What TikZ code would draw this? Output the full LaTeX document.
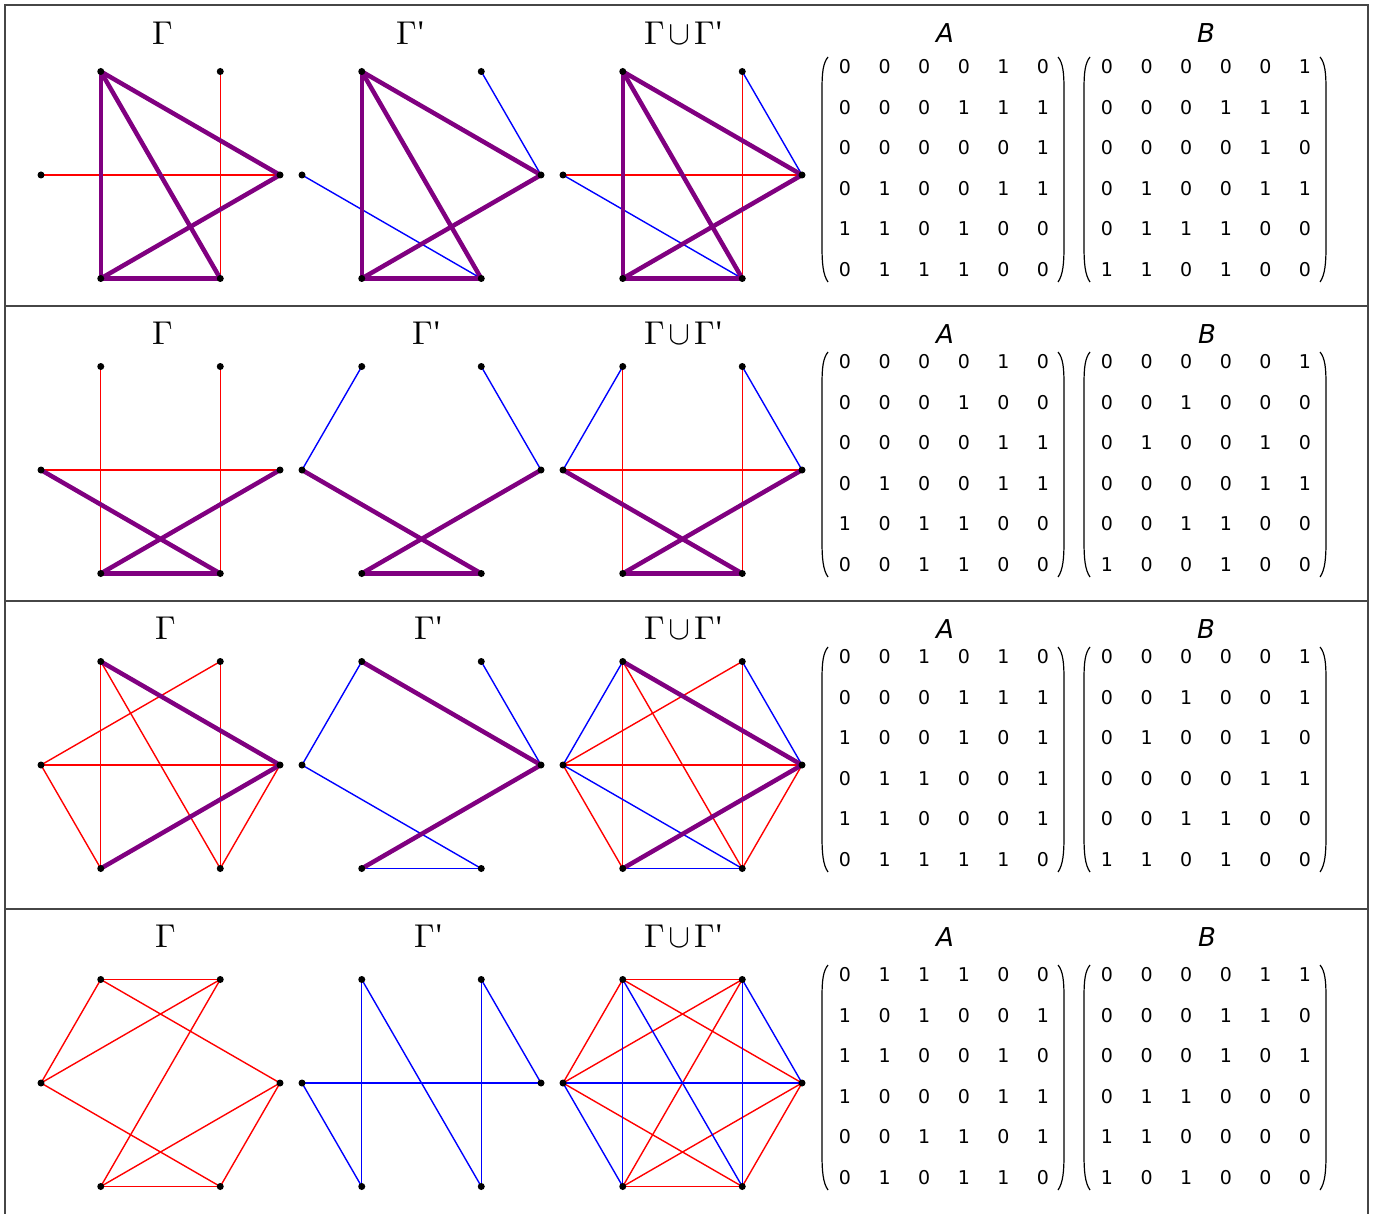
\documentclass[tikz,border=0pt]{standalone}
\usepackage{fontspec}
\usepackage{unicode-math}
\setmathfont{Latin Modern Math}
\newfontfamily\dejavu{DejaVu Sans}
\newfontfamily\libser{Liberation Serif}
\definecolor{edgered}{RGB}{255,0,0}
\definecolor{edgeblue}{RGB}{0,0,255}
\definecolor{edgepurple}{RGB}{128,0,128}
\definecolor{rulegray}{RGB}{70,70,70}
\tikzset{
  vdot/.style={circle,fill=black,inner sep=0pt,minimum size=7pt},
  aedge/.style={edgered,line width=1.4pt},
  bedge/.style={edgeblue,line width=1.4pt},
  cedge/.style={edgepurple,line width=4.5pt,line cap=round},
  gtitle/.style={inner sep=0pt,anchor=base,font=\fontsize{33}{36}\selectfont},
  mtitle/.style={inner sep=0pt,anchor=base,font=\fontsize{26}{30}\selectfont\dejavu\itshape},
  entry/.style={inner sep=0pt,font=\fontsize{19}{21}\selectfont\dejavu},
  parenline/.style={line width=1.2pt,black},
  framerule/.style={rulegray,line width=1.3pt},
}
\newcommand\mkverts[3]{%
  \foreach \i/\dx/\dy in {1/59.75/-103.5,2/-59.75/-103.5,3/-119.5/0,4/-59.75/103.5,5/59.75/103.5,6/119.5/0}
    {\coordinate (#1v\i) at ({#2+\dx},{#3+\dy});}}
\newcommand\mkdots[1]{%
  \foreach \i in {1,...,6} {\node[vdot] (#1d\i) at (#1v\i) {};}}
\newcommand\mkedges[3]{%
  \foreach \a/\b in {#3} {\draw[#2] (#1v\a) -- (#1v\b);}}
\newcommand\mkmatrix[4]{%
  \foreach \row [count=\r] in {#4} {%
    \foreach \v [count=\c] in \row {%
      \node[entry] (#1-\r-\c) at ({#2+(\c-1)*39.6},{#3+(\r-1)*40.5}) {\v};}}
  \draw[parenline] ({#2-17},{#3-10}) .. controls ({#2-22},{#3-4}) and ({#2-23},{#3+6}) .. ({#2-23},{#3+22})
     -- ({#2-23},{#3+180}) .. controls ({#2-23},{#3+196}) and ({#2-22},{#3+208}) .. ({#2-17},{#3+215});
  \draw[parenline] ({#2+198+15},{#3-10}) .. controls ({#2+198+20},{#3-4}) and ({#2+198+21},{#3+6}) .. ({#2+198+21},{#3+22})
     -- ({#2+198+21},{#3+180}) .. controls ({#2+198+21},{#3+196}) and ({#2+198+20},{#3+208}) .. ({#2+198+15},{#3+215});
}
\newcommand\gprime{\kern1pt\raisebox{1pt}{\libser\char"27}}
\begin{document}
\begin{tikzpicture}[x=1pt,y=-1pt]
\useasboundingbox (0,0) rectangle (1375,1214);
% frame
\draw[framerule] (5,1214) -- (5,5) -- (1368,5) -- (1368,1214);
\foreach \yy in {306,601,909} {\draw[framerule] (5,\yy) -- (1368,\yy);}
% ---------- row 1 ----------
\node[gtitle] (t1a) at (163,44.5) {$\Gamma$};
\node[gtitle] (t1b) at (410,44.5) {$\Gamma$\gprime};
\node[gtitle] (t1c) at (683,44.5) {$\Gamma\mkern-2mu\cup\mkern-2mu\Gamma$\gprime};
\node[mtitle] (t1A) at (945,43) {A};
\node[mtitle] (t1B) at (1206,43) {B};
\mkverts{ra}{160.5}{175}\mkverts{rb}{421.5}{175}\mkverts{rc}{682.5}{175}
\mkedges{ra}{aedge}{1/5,3/6}
\mkedges{ra}{cedge}{2/4,2/5,2/6,4/5,4/6}
\mkedges{rb}{bedge}{1/6,3/5}
\mkedges{rb}{cedge}{2/4,2/5,2/6,4/5,4/6}
\mkedges{rc}{aedge}{1/5,3/6}
\mkedges{rc}{bedge}{1/6,3/5}
\mkedges{rc}{cedge}{2/4,2/5,2/6,4/5,4/6}
\mkdots{ra}\mkdots{rb}\mkdots{rc}
\mkmatrix{mA1}{845}{67}{{0,0,0,0,1,0},{0,0,0,1,1,1},{0,0,0,0,0,1},{0,1,0,0,1,1},{1,1,0,1,0,0},{0,1,1,1,0,0}}
\mkmatrix{mB1}{1107}{67}{{0,0,0,0,0,1},{0,0,0,1,1,1},{0,0,0,0,1,0},{0,1,0,0,1,1},{0,1,1,1,0,0},{1,1,0,1,0,0}}
% ---------- row 2 ----------
\node[gtitle] (t2a) at (163,344.5) {$\Gamma$};
\node[gtitle] (t2b) at (426,344.5) {$\Gamma$\gprime};
\node[gtitle] (t2c) at (683,344.5) {$\Gamma\mkern-2mu\cup\mkern-2mu\Gamma$\gprime};
\node[mtitle] (t2A) at (945,343.5) {A};
\node[mtitle] (t2B) at (1207,343.5) {B};
\mkverts{sa}{160.5}{470}\mkverts{sb}{421.5}{470}\mkverts{sc}{682.5}{470}
\mkedges{sa}{aedge}{1/5,2/4,3/6}
\mkedges{sa}{cedge}{3/5,4/5,4/6}
\mkedges{sb}{bedge}{1/6,2/3}
\mkedges{sb}{cedge}{3/5,4/5,4/6}
\mkedges{sc}{aedge}{1/5,2/4,3/6}
\mkedges{sc}{bedge}{1/6,2/3}
\mkedges{sc}{cedge}{3/5,4/5,4/6}
\mkdots{sa}\mkdots{sb}\mkdots{sc}
\mkmatrix{mA2}{845}{362}{{0,0,0,0,1,0},{0,0,0,1,0,0},{0,0,0,0,1,1},{0,1,0,0,1,1},{1,0,1,1,0,0},{0,0,1,1,0,0}}
\mkmatrix{mB2}{1107}{362}{{0,0,0,0,0,1},{0,0,1,0,0,0},{0,1,0,0,1,0},{0,0,0,0,1,1},{0,0,1,1,0,0},{1,0,0,1,0,0}}
% ---------- row 3 ----------
\node[gtitle] (t3a) at (166,639.5) {$\Gamma$};
\node[gtitle] (t3b) at (428,639.5) {$\Gamma$\gprime};
\node[gtitle] (t3c) at (683,639.5) {$\Gamma\mkern-2mu\cup\mkern-2mu\Gamma$\gprime};
\node[mtitle] (t3A) at (945,638.5) {A};
\node[mtitle] (t3B) at (1206,638.5) {B};
\mkverts{ua}{160.5}{765}\mkverts{ub}{421.5}{765}\mkverts{uc}{682.5}{765}
\mkedges{ua}{aedge}{1/3,1/5,2/4,2/5,3/4,3/6,5/6}
\mkedges{ua}{cedge}{2/6,4/6}
\mkedges{ub}{bedge}{1/6,2/3,3/5,4/5}
\mkedges{ub}{cedge}{2/6,4/6}
\mkedges{uc}{aedge}{1/3,1/5,2/4,2/5,3/4,3/6,5/6}
\mkedges{uc}{bedge}{1/6,2/3,3/5,4/5}
\mkedges{uc}{cedge}{2/6,4/6}
\mkdots{ua}\mkdots{ub}\mkdots{uc}
\mkmatrix{mA3}{845}{657}{{0,0,1,0,1,0},{0,0,0,1,1,1},{1,0,0,1,0,1},{0,1,1,0,0,1},{1,1,0,0,0,1},{0,1,1,1,1,0}}
\mkmatrix{mB3}{1107}{657}{{0,0,0,0,0,1},{0,0,1,0,0,1},{0,1,0,0,1,0},{0,0,0,0,1,1},{0,0,1,1,0,0},{1,1,0,1,0,0}}
% ---------- row 4 ----------
\node[gtitle] (t4a) at (166,947.5) {$\Gamma$};
\node[gtitle] (t4b) at (428,947.5) {$\Gamma$\gprime};
\node[gtitle] (t4c) at (683,947.5) {$\Gamma\mkern-2mu\cup\mkern-2mu\Gamma$\gprime};
\node[mtitle] (t4A) at (945,946.5) {A};
\node[mtitle] (t4B) at (1207,946.5) {B};
\mkverts{wa}{160.5}{1083}\mkverts{wb}{421.5}{1083}\mkverts{wc}{682.5}{1083}
\mkedges{wa}{aedge}{1/2,1/3,1/4,2/3,2/6,3/5,4/5,4/6,5/6}
\mkedges{wb}{bedge}{1/5,1/6,2/4,2/5,3/4,3/6}
\mkedges{wc}{aedge}{1/2,1/3,1/4,2/3,2/6,3/5,4/5,4/6,5/6}
\mkedges{wc}{bedge}{1/5,1/6,2/4,2/5,3/4,3/6}
\mkdots{wa}\mkdots{wb}\mkdots{wc}
\mkmatrix{mA4}{845}{975}{{0,1,1,1,0,0},{1,0,1,0,0,1},{1,1,0,0,1,0},{1,0,0,0,1,1},{0,0,1,1,0,1},{0,1,0,1,1,0}}
\mkmatrix{mB4}{1107}{975}{{0,0,0,0,1,1},{0,0,0,1,1,0},{0,0,0,1,0,1},{0,1,1,0,0,0},{1,1,0,0,0,0},{1,0,1,0,0,0}}
\end{tikzpicture}
\end{document}
